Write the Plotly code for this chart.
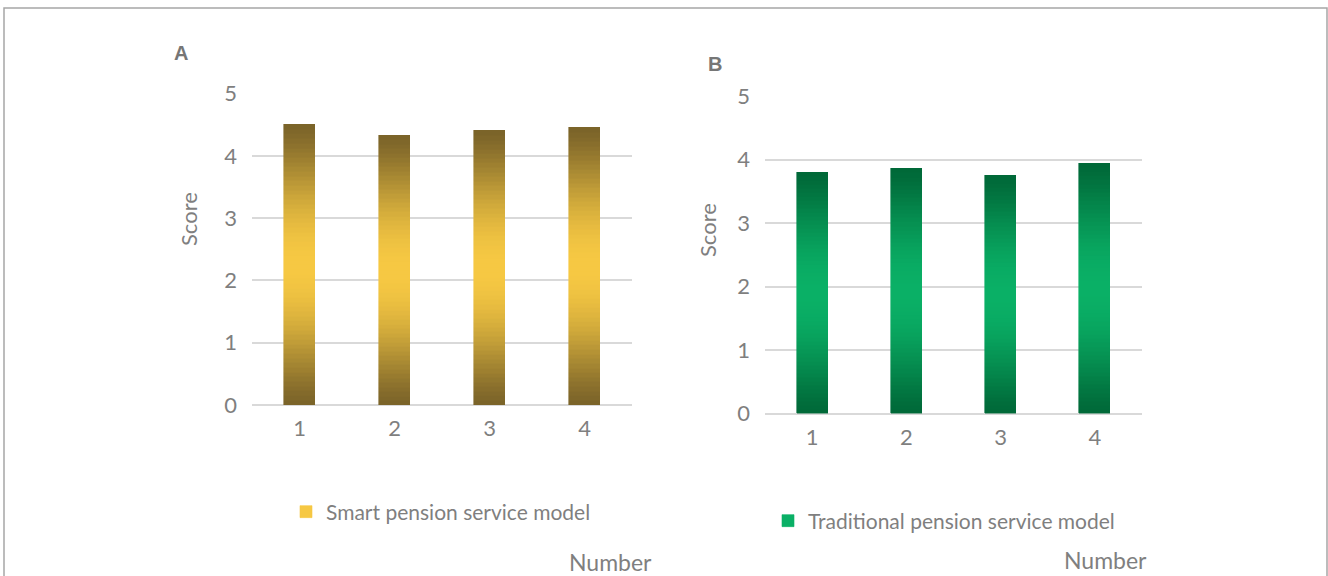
import numpy as np
import plotly.graph_objects as go

# ---- data ----
categories = ["1", "2", "3", "4"]
smart_scores = [4.50, 4.33, 4.40, 4.45]
traditional_scores = [3.81, 3.86, 3.76, 3.95]
y_ticks = [0, 1, 2, 3, 4, 5]
series_a_name = "Smart pension service model"
series_b_name = "Traditional pension service model"

W, H = 1328, 576
GREY = "#7F7F7F"
FONT = "Lato"
N = 60  # gradient slices per bar


def px_x(v):
    return v / W


def px_y(v):
    return 1 - v / H


def mix(dark, light, t):
    f = np.sin(np.pi * t) ** 1.3
    d = np.array(dark, float)
    l = np.array(light, float)
    c = d + (l - d) * f
    return "rgb(%d,%d,%d)" % tuple(np.round(c).astype(int))


fig = go.Figure()


def add_gradient_bars(values, dark, light, xa, ya, legend, name):
    for k in range(N):
        col = mix(dark, light, (k + 0.5) / N)
        fig.add_trace(go.Bar(
            x=categories, y=[v / N for v in values],
            width=0.33,
            marker=dict(color=col, line=dict(color=col, width=0.6)),
            xaxis=xa, yaxis=ya, legend=legend,
            name=name, showlegend=(k == N // 2),
            hoverinfo="skip",
        ))


add_gradient_bars(smart_scores, (122, 99, 41), (246, 200, 67), "x", "y", "legend", series_a_name)
add_gradient_bars(traditional_scores, (0, 104, 56), (10, 176, 102), "x2", "y2", "legend2", series_b_name)

axis_common = dict(
    showline=False, ticks="", showgrid=True, automargin=False,
    tickfont=dict(family=FONT, size=22, color=GREY),
)
yax_common = dict(axis_common, range=[0, 5], tickvals=y_ticks, gridcolor="#D9D9D9",
                  gridwidth=1.5, zeroline=True, zerolinecolor="#D9D9D9", zerolinewidth=1.5,
                  ticklabelstandoff=14)
xax_common = dict(axis_common, showgrid=False, zeroline=False, type="category",
                  range=[-0.5, 3.5], ticklabelstandoff=8)

fig.update_layout(
    width=W, height=H,
    margin=dict(l=0, r=0, t=0, b=0, pad=0, autoexpand=False),
    paper_bgcolor="white", plot_bgcolor="white",
    barmode="stack", bargap=0,
    font=dict(family=FONT, color=GREY),
    xaxis=dict(xax_common, domain=[px_x(252), px_x(632)], anchor="y"),
    yaxis=dict(yax_common, domain=[px_y(405), px_y(93.5)], anchor="x"),
    xaxis2=dict(xax_common, domain=[px_x(765), px_x(1142)], anchor="y2"),
    yaxis2=dict(yax_common, domain=[px_y(413.7), px_y(96.3)], anchor="x2"),
    legend=dict(x=px_x(286), y=px_y(512), xanchor="left", yanchor="middle",
                font=dict(family=FONT, size=21, color=GREY), bgcolor="rgba(0,0,0,0)"),
    legend2=dict(x=px_x(768), y=px_y(521), xanchor="left", yanchor="middle",
                 font=dict(family=FONT, size=21, color=GREY), bgcolor="rgba(0,0,0,0)"),
    showlegend=True,
    shapes=[dict(type="rect", xref="paper", yref="paper",
                 x0=px_x(4), x1=px_x(1327), y0=-0.2, y1=px_y(8),
                 line=dict(color="#A6A6A6", width=1.5), fillcolor="rgba(0,0,0,0)")],
)

ann = [
    dict(text="<b>A</b>", x=px_x(181), y=px_y(53), size=20, color="#767676", angle=0,
         family="Liberation Sans"),
    dict(text="<b>B</b>", x=px_x(715), y=px_y(64), size=20, color="#767676", angle=0,
         family="Liberation Sans"),
    dict(text="Score", x=px_x(189), y=px_y(219), size=22, color=GREY, angle=-90, family=FONT),
    dict(text="Score", x=px_x(707), y=px_y(230), size=22, color=GREY, angle=-90, family=FONT),
    dict(text="Number", x=px_x(610), y=px_y(562), size=23, color=GREY, angle=0, family=FONT),
    dict(text="Number", x=px_x(1105), y=px_y(560), size=23, color=GREY, angle=0, family=FONT),
]
for a in ann:
    fig.add_annotation(text=a["text"], x=a["x"], y=a["y"], xref="paper", yref="paper",
                       xanchor="center", yanchor="middle", showarrow=False,
                       textangle=a["angle"],
                       font=dict(family=a["family"], size=a["size"], color=a["color"]))

fig.write_html("out.html")
